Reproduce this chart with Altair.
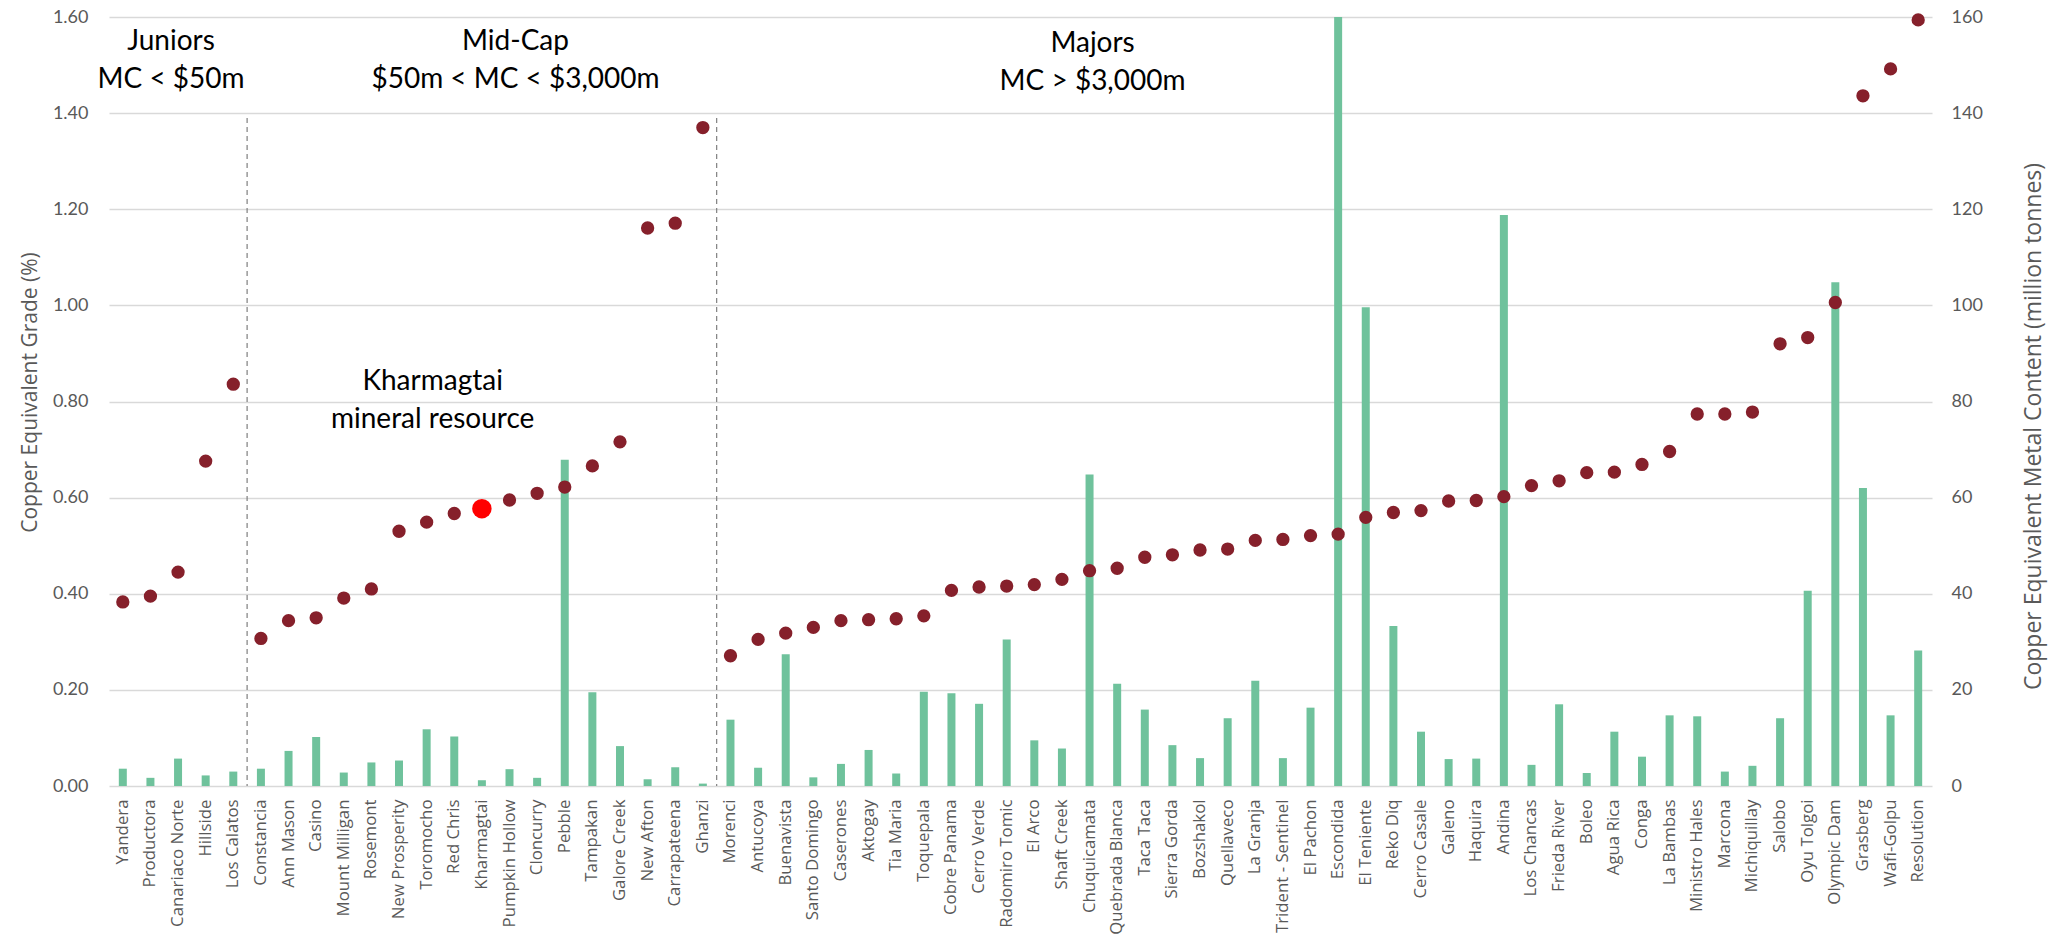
import altair as alt
import pandas as pd

names = [
    "Yandera", "Productora", "Canariaco Norte", "Hillside", "Los Calatos",
    "Constancia", "Ann Mason", "Casino", "Mount Milligan", "Rosemont", "New Prosperity",
    "Toromocho", "Red Chris", "Kharmagtai", "Pumpkin Hollow", "Cloncurry", "Pebble",
    "Tampakan", "Galore Creek", "New Afton", "Carrapateena", "Ghanzi",
    "Morenci", "Antucoya", "Buenavista", "Santo Domingo", "Caserones", "Aktogay",
    "Tia Maria", "Toquepala", "Cobre Panama", "Cerro Verde", "Radomiro Tomic", "El Arco",
    "Shaft Creek", "Chuquicamata", "Quebrada Blanca", "Taca Taca", "Sierra Gorda",
    "Bozshakol", "Quellaveco", "La Granja", "Trident - Sentinel", "El Pachon", "Escondida",
    "El Teniente", "Reko Diq", "Cerro Casale", "Galeno", "Haquira", "Andina", "Los Chancas",
    "Frieda River", "Boleo", "Agua Rica", "Conga", "La Bambas", "Ministro Hales", "Marcona",
    "Michiquillay", "Salobo", "Oyu Tolgoi", "Olympic Dam", "Grasberg", "Wafi-Golpu",
    "Resolution",
]

# Copper equivalent grade (%), left axis
grade = [
    0.383, 0.395, 0.445, 0.676, 0.836,
    0.307, 0.344, 0.350, 0.391, 0.410, 0.530, 0.549, 0.567, 0.577, 0.595, 0.609, 0.622,
    0.666, 0.716, 1.161, 1.171, 1.370,
    0.271, 0.305, 0.318, 0.330, 0.344, 0.346, 0.348, 0.354, 0.407, 0.414, 0.416, 0.419,
    0.430, 0.448, 0.453, 0.476, 0.481, 0.491, 0.493, 0.511, 0.513, 0.521, 0.524, 0.559,
    0.569, 0.573, 0.593, 0.594, 0.602, 0.625, 0.635, 0.652, 0.653, 0.669, 0.696, 0.774,
    0.774, 0.778, 0.920, 0.933, 1.006, 1.436, 1.492, 1.594,
]

# Copper equivalent metal content (million tonnes), right axis
metal = [
    3.6, 1.7, 5.7, 2.2, 3.0,
    3.6, 7.3, 10.2, 2.8, 4.9, 5.3, 11.8, 10.3, 1.2, 3.5, 1.7, 67.9, 19.5, 8.3, 1.4, 3.9, 0.5,
    13.8, 3.8, 27.4, 1.8, 4.6, 7.5, 2.6, 19.6, 19.3, 17.1, 30.5, 9.5, 7.8, 64.8, 21.3, 15.9,
    8.5, 5.8, 14.1, 21.9, 5.8, 16.3, 175.0, 99.6, 33.3, 11.3, 5.6, 5.7, 118.8, 4.4, 17.0,
    2.7, 11.3, 6.1, 14.7, 14.5, 3.0, 4.2, 14.1, 40.6, 104.8, 62.0, 14.7, 28.2,
]

highlight = "Kharmagtai"

divider_names = ["Constancia", "Morenci"]
divider_top = [1.39, 1.39]
divider_base = [0.0, 0.0]

ann_labels = [
    "Juniors\nMC < $50m",
    "Mid-Cap\n$50m < MC < $3,000m",
    "Majors\nMC > $3,000m",
    "Kharmagtai\nmineral resource",
]
ann_anchor = ["Canariaco Norte", "Pumpkin Hollow", "Chuquicamata", "Toromocho"]
ann_grade = [1.531, 1.531, 1.527, 0.824]

grade_ticks = [0.0, 0.2, 0.4, 0.6, 0.8, 1.0, 1.2, 1.4, 1.6]
metal_ticks = [0, 20, 40, 60, 80, 100, 120, 140, 160]

df = pd.DataFrame({"name": names, "grade": grade, "metal": metal})
df_div = pd.DataFrame({"name": divider_names, "grade": divider_top, "base": divider_base})
df_ann = pd.DataFrame({"name": ann_anchor, "grade": ann_grade, "label": ann_labels})

GRAY = "#595959"

x_scale = alt.Scale(domain=names, paddingInner=0, paddingOuter=0)
x_axis = alt.Axis(
    title=None, labelAngle=-90, labelFont="Open Sans", labelFontSize=16.8,
    labelColor=GRAY, labelPadding=13, domain=False, ticks=False, grid=False,
    labelLimit=400,
)


def x_enc(**kw):
    return alt.X("name:N", scale=x_scale, axis=x_axis, **kw)


left_scale = alt.Scale(domain=[0, 1.6], nice=False, zero=True)
left_axis = alt.Axis(
    orient="left", values=grade_ticks, format=".2f",
    title="Copper Equivalent Grade (%)", grid=True, gridColor="#D9D9D9", gridWidth=1.3,
    domain=False, ticks=False, labelPadding=21, labelFont="Lato", labelFontSize=18,
    labelColor=GRAY, titleFont="Open Sans", titleFontSize=21, titleFontWeight="normal",
    titleColor=GRAY, titlePadding=12, titleY=375,
)
y_left = alt.Y("grade:Q", scale=left_scale, axis=left_axis)

right_axis = alt.Axis(
    orient="right", values=metal_ticks, format="d",
    title="Copper Equivalent Metal Content (million tonnes)", grid=False, domain=False,
    ticks=False, labelPadding=19, labelFont="Lato", labelFontSize=18, labelColor=GRAY,
    titleFont="Open Sans", titleFontSize=23, titleFontWeight="normal", titleColor=GRAY,
    titleAngle=-90, titleBaseline="top", titlePadding=40, titleY=409,
)

bars = alt.Chart(df).mark_bar(size=8, color="#6FC29C", clip=True).encode(
    x=x_enc(),
    y=alt.Y("metal:Q", scale=alt.Scale(domain=[0, 160], nice=False, zero=True), axis=right_axis),
)

rules = alt.Chart(df_div).mark_rule(color="#7F7F7F", strokeWidth=1.2, strokeDash=[5, 4]).encode(
    x=x_enc(bandPosition=0),
    y=y_left,
    y2="base:Q",
)

dots = alt.Chart(df).transform_filter(alt.datum.name != highlight).mark_circle(
    size=177, color="#86202B", opacity=1
).encode(x=x_enc(), y=y_left)

hl = alt.Chart(df).transform_filter(alt.datum.name == highlight).mark_circle(
    size=380, color="#FF0000", opacity=1
).encode(x=x_enc(), y=y_left)

text_styles = [
    {"dx": -7},
    {"dx": 6},
    {"dx": 3},
    {"dx": 6},
]
texts = []
for lab, st in zip(ann_labels, text_styles):
    texts.append(
        alt.Chart(df_ann).transform_filter(alt.datum.label == lab).mark_text(
            font="Lato", fontSize=28, color="#000000", align="center",
            baseline="alphabetic", lineBreak="\n", dx=st["dx"], lineHeight=38,
        ).encode(x=x_enc(), y=y_left, text="label:N")
    )

inner = alt.layer(rules, dots, hl, *texts)

chart = alt.layer(bars, inner).resolve_scale(y="independent").properties(
    width=1823, height=769,
    padding={"left": 101, "top": 9, "right": 127, "bottom": 149},
    autosize=alt.AutoSizeParams(type="none"),
).configure_view(stroke=None)

chart.save("out.html", embed_options={"renderer": "svg", "actions": False})
